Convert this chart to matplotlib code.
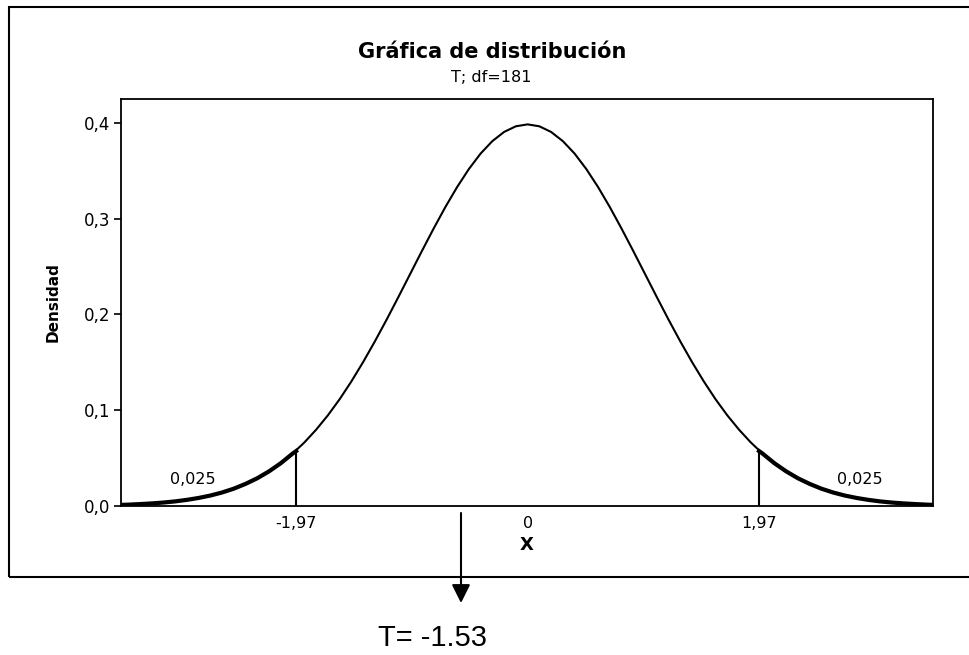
import matplotlib
matplotlib.use("Agg")
import matplotlib.pyplot as plt
from matplotlib.patches import Rectangle

# density, x >= 0 (curve is symmetric)
x_right = [0.0, 0.1, 0.2, 0.3, 0.4, 0.5, 0.6, 0.7, 0.8, 0.9, 1.0, 1.1, 1.2,
           1.3, 1.4, 1.5, 1.6, 1.7, 1.8, 1.9, 2.0, 2.1, 2.2, 2.3, 2.4, 2.5,
           2.6, 2.7, 2.8, 2.9, 3.0, 3.1, 3.2, 3.3, 3.4, 3.5]
dens_right = [0.3985, 0.3965, 0.3906, 0.3810, 0.3680, 0.3518, 0.3330, 0.3121,
              0.2896, 0.2661, 0.2421, 0.2181, 0.1945, 0.1718, 0.1502, 0.1300,
              0.1114, 0.0946, 0.0796, 0.0663, 0.0547, 0.0447, 0.0362, 0.0290,
              0.0231, 0.0181, 0.0141, 0.0109, 0.0084, 0.0064, 0.0048, 0.0036,
              0.0027, 0.0020, 0.0014, 0.0010]

crit = [-1.97, 1.97]
crit_dens = [0.0573, 0.0573]
tail_area = ["0,025", "0,025"]
tail_label_x = [-2.85, 2.83]

yticks = [0.0, 0.1, 0.2, 0.3, 0.4]
ytick_labels = ["0,0", "0,1", "0,2", "0,3", "0,4"]
xticks = [-1.97, 0, 1.97]
xtick_labels = ["-1,97", "0", "1,97"]

t_value = "T= -1.53"


def main():
    xs = [-v for v in x_right[::-1]] + x_right[1:]
    ys = dens_right[::-1] + dens_right[1:]

    fig = plt.figure(figsize=(9.7, 6.55), dpi=100)
    ax = fig.add_axes([121 / 970, 1 - 506 / 655, 812 / 970, 407 / 655])

    ax.plot(xs, ys, color="black", lw=1.5)

    # tails drawn heavier, like the outlined rejection regions
    left_x = [x for x in xs if x <= crit[0]] + [crit[0]]
    left_y = [y for x, y in zip(xs, ys) if x <= crit[0]] + [crit_dens[0]]
    right_x = [crit[1]] + [x for x in xs if x >= crit[1]]
    right_y = [crit_dens[1]] + [y for x, y in zip(xs, ys) if x >= crit[1]]
    ax.plot(left_x, left_y, color="black", lw=3)
    ax.plot(right_x, right_y, color="black", lw=3)
    ax.vlines(crit, 0, crit_dens, color="black", lw=1.5)

    for lx, txt in zip(tail_label_x, tail_area):
        ax.text(lx, 0.028, txt, ha="center", va="center", fontsize=11.5)

    ax.set_xlim(-3.46, 3.45)
    ax.set_ylim(0, 0.425)
    ax.set_yticks(yticks)
    ax.set_yticklabels(ytick_labels, fontsize=12)
    ax.set_xticks(xticks)
    ax.set_xticklabels(xtick_labels, fontsize=11.5)
    ax.tick_params(axis="y", length=5, width=1.2, pad=3)
    ax.tick_params(axis="x", length=0, pad=7)
    for s in ax.spines.values():
        s.set_linewidth(1.3)

    ax.set_xlabel("X", fontsize=13, fontweight="bold")
    ax.xaxis.set_label_coords(0.5, -30 / 407)
    ax.set_ylabel("Densidad", fontsize=11, fontweight="bold", va="center")
    ax.yaxis.set_label_coords(-68 / 812, 0.5)

    fig.text(492 / 970, 1 - 52 / 655, "Gráfica de distribución",
             ha="center", va="center", fontsize=15, fontweight="bold")
    fig.text(491 / 970, 1 - 77 / 655, "T; df=181", ha="center", va="center",
             fontsize=11.5)

    # outer frame (right side runs off the picture)
    fig.add_artist(Rectangle((9 / 970, 1 - 577 / 655), 1.0, 570 / 655,
                             transform=fig.transFigure, fill=False,
                             edgecolor="black", lw=1.5))

    ax.annotate("", xy=(461 / 970, 1 - 603 / 655),
                xytext=(461 / 970, 1 - 513 / 655),
                xycoords="figure fraction", textcoords="figure fraction",
                arrowprops=dict(arrowstyle="-|>,head_length=0.8,head_width=0.4",
                                mutation_scale=14, lw=1.5, color="black",
                                shrinkA=0, shrinkB=0))
    fig.text(433 / 970, 1 - 646 / 655, t_value, ha="center", va="baseline",
             fontsize=21, family="Liberation Sans")

    fig.savefig("out.png", dpi=100)


if __name__ == "__main__":
    main()
